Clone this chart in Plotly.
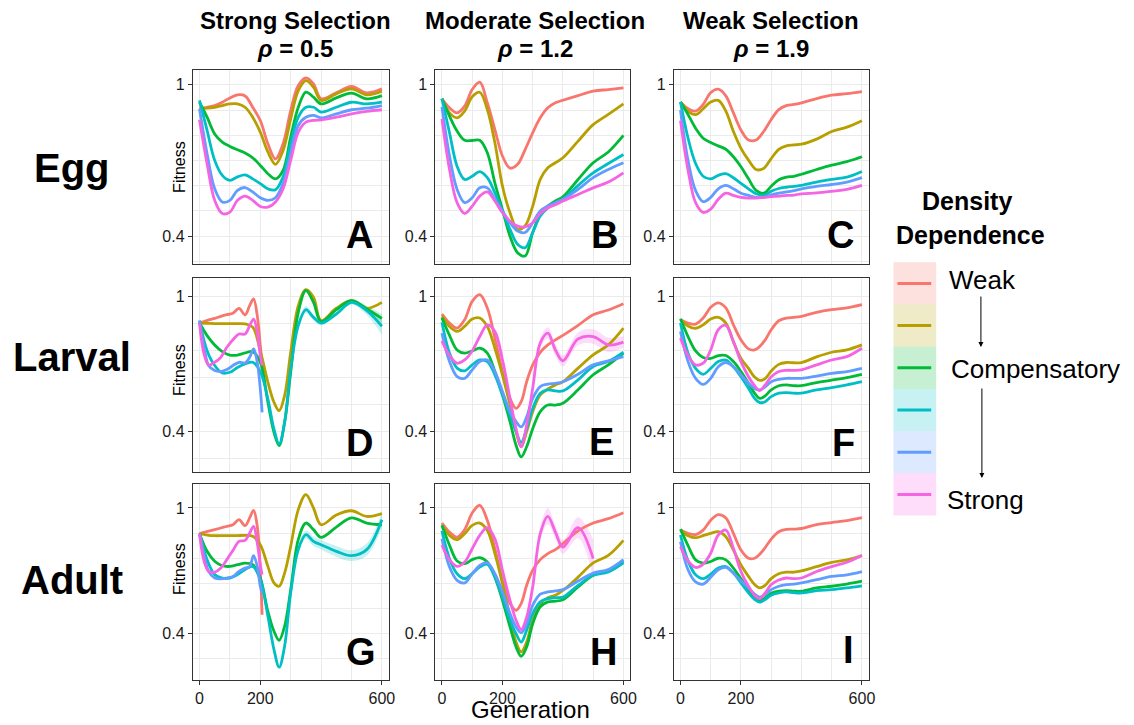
import plotly.graph_objects as go

W, H = 1134, 725
FONT = "Liberation Sans, Arial, Helvetica, sans-serif"

# Density-dependence levels, weakest (D1) to strongest (D6)
COLORS = ["#F8766D", "#B79F00", "#00BA38", "#00BFC4", "#619CFF", "#F564E3"]
RGB = [(248, 118, 109), (183, 159, 0), (0, 186, 56), (0, 191, 196), (97, 156, 255), (245, 100, 227)]

# Generation grids
GEN_EGG = [0, 25, 50, 75, 100, 125, 150, 175, 200, 225, 250, 275, 300, 325, 350, 375, 400, 450, 500, 550, 600]
GEN_LA = [0, 25, 50, 75, 100, 125, 150, 175, 200, 225, 245, 262, 280, 300, 325, 350, 375, 400, 450, 500, 550, 600]
GEN_EARLY = [0, 15, 30, 50, 70, 90, 110, 130, 150, 165, 178, 190, 200, 206]

# ---- Egg, strong selection (A)
A_D1 = [0.868, 0.873, 0.882, 0.900, 0.924, 0.941, 0.935, 0.873, 0.806, 0.700, 0.639, 0.700, 0.856, 0.996, 1.043, 1.006, 0.919, 0.953, 0.990, 0.953, 0.976]
A_D2 = [0.868, 0.868, 0.873, 0.882, 0.891, 0.891, 0.873, 0.822, 0.751, 0.666, 0.618, 0.672, 0.814, 0.966, 1.026, 0.986, 0.910, 0.947, 0.976, 0.941, 0.962]
A_D3 = [0.900, 0.822, 0.743, 0.707, 0.689, 0.675, 0.662, 0.643, 0.614, 0.584, 0.566, 0.596, 0.729, 0.873, 0.957, 0.928, 0.891, 0.924, 0.951, 0.919, 0.937]
A_D4 = [0.910, 0.759, 0.633, 0.578, 0.561, 0.573, 0.580, 0.566, 0.550, 0.533, 0.530, 0.573, 0.700, 0.822, 0.873, 0.873, 0.848, 0.873, 0.900, 0.891, 0.900]
A_D5 = [0.865, 0.659, 0.533, 0.492, 0.497, 0.528, 0.537, 0.523, 0.505, 0.497, 0.505, 0.550, 0.659, 0.782, 0.822, 0.831, 0.819, 0.839, 0.860, 0.868, 0.882]
A_D6 = [0.809, 0.620, 0.497, 0.459, 0.463, 0.497, 0.510, 0.497, 0.479, 0.477, 0.492, 0.533, 0.633, 0.751, 0.798, 0.806, 0.809, 0.822, 0.839, 0.852, 0.860]

# ---- Egg, moderate selection (B)
B_D1 = [0.919, 0.870, 0.844, 0.879, 0.972, 1.016, 0.897, 0.763, 0.650, 0.604, 0.618, 0.676, 0.748, 0.819, 0.870, 0.897, 0.911, 0.937, 0.962, 0.972, 0.982]
B_D2 = [0.919, 0.844, 0.819, 0.853, 0.930, 0.956, 0.861, 0.704, 0.542, 0.461, 0.417, 0.426, 0.480, 0.564, 0.605, 0.624, 0.643, 0.711, 0.786, 0.836, 0.891]
B_D3 = [0.919, 0.827, 0.756, 0.715, 0.714, 0.715, 0.663, 0.552, 0.470, 0.400, 0.362, 0.355, 0.409, 0.456, 0.480, 0.495, 0.508, 0.564, 0.624, 0.666, 0.736]
B_D4 = [0.919, 0.748, 0.611, 0.564, 0.575, 0.591, 0.570, 0.520, 0.466, 0.417, 0.381, 0.373, 0.409, 0.452, 0.475, 0.490, 0.500, 0.544, 0.587, 0.621, 0.656]
B_D5 = [0.875, 0.650, 0.531, 0.490, 0.505, 0.536, 0.536, 0.500, 0.466, 0.434, 0.413, 0.409, 0.434, 0.466, 0.480, 0.490, 0.500, 0.531, 0.570, 0.599, 0.624]
B_D6 = [0.814, 0.599, 0.490, 0.459, 0.480, 0.510, 0.523, 0.495, 0.461, 0.438, 0.425, 0.423, 0.434, 0.459, 0.475, 0.484, 0.495, 0.515, 0.536, 0.555, 0.587]

# ---- Egg, weak selection (C)
C_D1 = [0.901, 0.865, 0.853, 0.888, 0.954, 0.974, 0.935, 0.844, 0.761, 0.716, 0.716, 0.754, 0.811, 0.861, 0.882, 0.888, 0.897, 0.920, 0.939, 0.948, 0.960]
C_D2 = [0.901, 0.853, 0.835, 0.865, 0.901, 0.910, 0.853, 0.754, 0.681, 0.634, 0.599, 0.603, 0.640, 0.677, 0.691, 0.695, 0.698, 0.720, 0.754, 0.774, 0.805]
C_D3 = [0.901, 0.835, 0.769, 0.724, 0.705, 0.691, 0.677, 0.647, 0.609, 0.566, 0.528, 0.519, 0.541, 0.563, 0.572, 0.575, 0.582, 0.599, 0.615, 0.628, 0.647]
C_D4 = [0.901, 0.724, 0.621, 0.575, 0.566, 0.578, 0.584, 0.570, 0.551, 0.533, 0.517, 0.512, 0.525, 0.534, 0.538, 0.541, 0.544, 0.555, 0.564, 0.572, 0.592]
C_D5 = [0.858, 0.633, 0.527, 0.493, 0.506, 0.533, 0.544, 0.533, 0.519, 0.512, 0.506, 0.506, 0.514, 0.519, 0.523, 0.527, 0.533, 0.541, 0.547, 0.555, 0.570]
C_D6 = [0.805, 0.596, 0.490, 0.462, 0.471, 0.500, 0.519, 0.512, 0.506, 0.504, 0.504, 0.506, 0.508, 0.510, 0.512, 0.513, 0.517, 0.520, 0.525, 0.531, 0.544]

# ---- Larval, strong selection (D); D1, D5, D6 die out early (GEN_EARLY)
D_D1 = [0.834, 0.842, 0.852, 0.861, 0.873, 0.883, 0.891, 0.922, 0.881, 0.939, 0.982, 0.877, 0.716, 0.625]
D_D2 = [0.834, 0.833, 0.831, 0.831, 0.831, 0.831, 0.829, 0.811, 0.690, 0.558, 0.487, 0.460, 0.510, 0.684, 0.938, 1.046, 0.993, 0.848, 0.922, 0.971, 0.922, 0.960]
D_D3 = [0.834, 0.766, 0.719, 0.687, 0.671, 0.671, 0.681, 0.687, 0.639, 0.487, 0.397, 0.363, 0.425, 0.597, 0.897, 1.039, 0.960, 0.842, 0.913, 0.971, 0.918, 0.861]
D_D4 = [0.848, 0.691, 0.625, 0.594, 0.597, 0.617, 0.632, 0.639, 0.600, 0.498, 0.406, 0.367, 0.425, 0.610, 0.820, 0.913, 0.867, 0.834, 0.887, 0.960, 0.907, 0.816]
D_D5 = [0.848, 0.708, 0.625, 0.604, 0.600, 0.608, 0.625, 0.639, 0.636, 0.661, 0.700, 0.639, 0.533, 0.455]
D_D6 = [0.834, 0.676, 0.627, 0.639, 0.661, 0.708, 0.745, 0.774, 0.774, 0.819, 0.857, 0.783, 0.669, 0.625]

# ---- Larval, moderate selection (E)
E_D1 = [0.887, 0.834, 0.806, 0.853, 0.966, 1.011, 0.924, 0.753, 0.600, 0.500, 0.467, 0.489, 0.560, 0.628, 0.684, 0.719, 0.744, 0.767, 0.821, 0.883, 0.911, 0.951]
E_D2 = [0.873, 0.815, 0.788, 0.815, 0.857, 0.863, 0.815, 0.703, 0.587, 0.478, 0.399, 0.360, 0.399, 0.457, 0.512, 0.533, 0.548, 0.560, 0.614, 0.672, 0.719, 0.806]
E_D3 = [0.863, 0.767, 0.695, 0.680, 0.690, 0.703, 0.680, 0.600, 0.512, 0.427, 0.364, 0.336, 0.360, 0.407, 0.457, 0.478, 0.478, 0.484, 0.530, 0.587, 0.628, 0.680]
E_D4 = [0.839, 0.680, 0.614, 0.603, 0.628, 0.649, 0.642, 0.587, 0.512, 0.446, 0.399, 0.371, 0.407, 0.467, 0.518, 0.530, 0.526, 0.526, 0.567, 0.621, 0.642, 0.684]
E_D5 = [0.779, 0.642, 0.580, 0.573, 0.607, 0.642, 0.649, 0.600, 0.524, 0.457, 0.427, 0.412, 0.441, 0.500, 0.542, 0.551, 0.554, 0.560, 0.589, 0.628, 0.645, 0.664]
E_D6 = [0.739, 0.669, 0.635, 0.649, 0.690, 0.761, 0.824, 0.788, 0.650, 0.500, 0.407, 0.360, 0.417, 0.536, 0.728, 0.779, 0.695, 0.645, 0.749, 0.761, 0.719, 0.733]

# ---- Larval, weak selection (F)
F_D1 = [0.853, 0.834, 0.828, 0.863, 0.928, 0.956, 0.924, 0.824, 0.744, 0.700, 0.695, 0.711, 0.744, 0.797, 0.847, 0.863, 0.867, 0.873, 0.897, 0.913, 0.924, 0.945]
F_D2 = [0.853, 0.818, 0.805, 0.824, 0.857, 0.867, 0.834, 0.735, 0.656, 0.613, 0.578, 0.565, 0.572, 0.602, 0.630, 0.638, 0.637, 0.638, 0.663, 0.684, 0.695, 0.719]
F_D3 = [0.859, 0.761, 0.690, 0.660, 0.656, 0.669, 0.669, 0.642, 0.600, 0.554, 0.518, 0.500, 0.509, 0.530, 0.545, 0.548, 0.545, 0.545, 0.557, 0.566, 0.576, 0.589]
F_D4 = [0.834, 0.680, 0.613, 0.589, 0.613, 0.642, 0.649, 0.620, 0.579, 0.535, 0.500, 0.486, 0.489, 0.506, 0.518, 0.520, 0.518, 0.518, 0.530, 0.538, 0.548, 0.560]
F_D5 = [0.788, 0.642, 0.573, 0.550, 0.573, 0.620, 0.638, 0.620, 0.587, 0.554, 0.535, 0.530, 0.541, 0.560, 0.569, 0.573, 0.573, 0.573, 0.582, 0.593, 0.600, 0.613]
F_D6 = [0.753, 0.669, 0.628, 0.635, 0.695, 0.797, 0.821, 0.735, 0.642, 0.579, 0.545, 0.527, 0.548, 0.579, 0.600, 0.605, 0.605, 0.607, 0.628, 0.649, 0.664, 0.703]

# ---- Adult, strong selection (G); D1, D5, D6 die out early (GEN_EARLY)
G_D1 = [0.829, 0.837, 0.844, 0.854, 0.864, 0.875, 0.885, 0.918, 0.879, 0.930, 0.983, 0.875, 0.638, 0.459]
G_D2 = [0.829, 0.821, 0.817, 0.817, 0.817, 0.817, 0.819, 0.813, 0.765, 0.653, 0.579, 0.565, 0.622, 0.756, 0.988, 1.102, 1.000, 0.885, 0.950, 0.980, 0.940, 0.960]
G_D3 = [0.829, 0.729, 0.678, 0.656, 0.653, 0.661, 0.669, 0.661, 0.600, 0.470, 0.407, 0.381, 0.422, 0.551, 0.794, 0.896, 0.854, 0.807, 0.870, 0.930, 0.896, 0.885]
G_D4 = [0.829, 0.686, 0.615, 0.600, 0.600, 0.615, 0.638, 0.653, 0.593, 0.454, 0.356, 0.313, 0.365, 0.538, 0.738, 0.823, 0.784, 0.765, 0.729, 0.706, 0.738, 0.918]
G_D5 = [0.829, 0.711, 0.630, 0.600, 0.596, 0.600, 0.607, 0.630, 0.645, 0.653, 0.706, 0.653, 0.565, 0.538]
G_D6 = [0.829, 0.678, 0.630, 0.626, 0.645, 0.686, 0.734, 0.784, 0.790, 0.833, 0.875, 0.774, 0.661, 0.615]

# ---- Adult, moderate selection (H); D6 stops at generation 500
H_D1 = [0.896, 0.839, 0.809, 0.854, 0.964, 1.020, 0.914, 0.743, 0.590, 0.498, 0.474, 0.498, 0.569, 0.635, 0.686, 0.717, 0.738, 0.771, 0.846, 0.896, 0.925, 0.966]
H_D2 = [0.881, 0.819, 0.794, 0.829, 0.881, 0.896, 0.849, 0.717, 0.576, 0.451, 0.376, 0.350, 0.376, 0.441, 0.498, 0.520, 0.529, 0.548, 0.604, 0.670, 0.708, 0.790]
H_D3 = [0.881, 0.762, 0.679, 0.666, 0.686, 0.696, 0.674, 0.604, 0.510, 0.420, 0.363, 0.339, 0.363, 0.430, 0.486, 0.504, 0.507, 0.512, 0.562, 0.612, 0.635, 0.679]
H_D4 = [0.846, 0.691, 0.619, 0.597, 0.619, 0.650, 0.663, 0.604, 0.522, 0.441, 0.400, 0.376, 0.410, 0.463, 0.504, 0.516, 0.520, 0.522, 0.569, 0.612, 0.627, 0.670]
H_D5 = [0.799, 0.650, 0.590, 0.579, 0.619, 0.658, 0.670, 0.619, 0.542, 0.463, 0.420, 0.402, 0.430, 0.491, 0.533, 0.542, 0.546, 0.551, 0.587, 0.622, 0.638, 0.686]
H_D6 = [0.762, 0.686, 0.653, 0.674, 0.743, 0.819, 0.866, 0.799, 0.635, 0.510, 0.441, 0.412, 0.451, 0.562, 0.829, 0.941, 0.839, 0.752, 0.866, 0.691, None, None]

# ---- Adult, weak selection (I)
I_D1 = [0.851, 0.831, 0.824, 0.851, 0.915, 0.953, 0.930, 0.831, 0.736, 0.693, 0.693, 0.714, 0.749, 0.797, 0.841, 0.855, 0.857, 0.861, 0.886, 0.899, 0.912, 0.932]
I_D2 = [0.851, 0.817, 0.805, 0.817, 0.831, 0.841, 0.811, 0.736, 0.660, 0.607, 0.572, 0.558, 0.569, 0.597, 0.619, 0.626, 0.626, 0.632, 0.652, 0.673, 0.685, 0.707]
I_D3 = [0.857, 0.760, 0.685, 0.669, 0.677, 0.693, 0.685, 0.645, 0.597, 0.551, 0.522, 0.509, 0.519, 0.537, 0.545, 0.547, 0.545, 0.545, 0.558, 0.565, 0.574, 0.586]
I_D4 = [0.821, 0.680, 0.614, 0.597, 0.617, 0.645, 0.652, 0.622, 0.579, 0.538, 0.513, 0.503, 0.513, 0.529, 0.538, 0.542, 0.539, 0.538, 0.547, 0.551, 0.558, 0.567]
I_D5 = [0.782, 0.637, 0.583, 0.574, 0.603, 0.637, 0.648, 0.622, 0.588, 0.558, 0.534, 0.522, 0.532, 0.551, 0.565, 0.572, 0.574, 0.579, 0.593, 0.607, 0.614, 0.629]
I_D6 = [0.754, 0.680, 0.648, 0.664, 0.719, 0.821, 0.851, 0.745, 0.629, 0.565, 0.529, 0.516, 0.538, 0.572, 0.591, 0.600, 0.597, 0.600, 0.629, 0.652, 0.673, 0.707]

# Confidence-band half widths (relative), on the GEN_LA grid
D_D3_BAND = [0.005] * 18 + [0.010, 0.010, 0.020, 0.030]
D_D4_BAND = [0.005] * 15 + [0.025, 0.020, 0.015, 0.010, 0.015, 0.030, 0.060]
E_D6_BAND = [0.005] * 13 + [0.020, 0.035, 0.040, 0.040, 0.040, 0.045, 0.050, 0.050, 0.040]
G_D4_BAND = [0.005] * 14 + [0.020, 0.030, 0.035, 0.035, 0.040, 0.040, 0.045, 0.060]
H_D6_BAND = [0.005] * 13 + [0.030, 0.050, 0.060, 0.050, 0.050, 0.080, 0.150, None, None]

ROW_LABELS = ["Egg", "Larval", "Adult"]
COL_TITLES = ["Strong Selection", "Moderate Selection", "Weak Selection"]
RHO = ["0.5", "1.2", "1.9"]
PANEL_LETTERS = ["A", "B", "C", "D", "E", "F", "G", "H", "I"]
LEGEND_LABELS = ["Weak", "", "Compensatory", "", "", "Strong"]

PANELS = [
    [(GEN_EGG, A_D1), (GEN_EGG, A_D2), (GEN_EGG, A_D3), (GEN_EGG, A_D4), (GEN_EGG, A_D5), (GEN_EGG, A_D6)],
    [(GEN_EGG, B_D1), (GEN_EGG, B_D2), (GEN_EGG, B_D3), (GEN_EGG, B_D4), (GEN_EGG, B_D5), (GEN_EGG, B_D6)],
    [(GEN_EGG, C_D1), (GEN_EGG, C_D2), (GEN_EGG, C_D3), (GEN_EGG, C_D4), (GEN_EGG, C_D5), (GEN_EGG, C_D6)],
    [(GEN_EARLY, D_D1), (GEN_LA, D_D2), (GEN_LA, D_D3), (GEN_LA, D_D4), (GEN_EARLY, D_D5), (GEN_EARLY, D_D6)],
    [(GEN_LA, E_D1), (GEN_LA, E_D2), (GEN_LA, E_D3), (GEN_LA, E_D4), (GEN_LA, E_D5), (GEN_LA, E_D6)],
    [(GEN_LA, F_D1), (GEN_LA, F_D2), (GEN_LA, F_D3), (GEN_LA, F_D4), (GEN_LA, F_D5), (GEN_LA, F_D6)],
    [(GEN_EARLY, G_D1), (GEN_LA, G_D2), (GEN_LA, G_D3), (GEN_LA, G_D4), (GEN_EARLY, G_D5), (GEN_EARLY, G_D6)],
    [(GEN_LA, H_D1), (GEN_LA, H_D2), (GEN_LA, H_D3), (GEN_LA, H_D4), (GEN_LA, H_D5), (GEN_LA, H_D6)],
    [(GEN_LA, I_D1), (GEN_LA, I_D2), (GEN_LA, I_D3), (GEN_LA, I_D4), (GEN_LA, I_D5), (GEN_LA, I_D6)],
]
BANDS = [(3, 2, D_D3_BAND), (3, 3, D_D4_BAND), (4, 5, E_D6_BAND), (6, 3, G_D4_BAND), (7, 5, H_D6_BAND)]

# ---- geometry (pixels)
COL_X = [(194, 391), (438, 634), (678, 874)]
ROW_Y = [(70, 264), (278, 472), (484, 680)]
ROW_LOG_RANGE = [(-0.471, 0.039), (-0.518, 0.054), (-0.545, 0.076)]
ROW_GRID_DIV = [6, 5, 5]
LETTER_POS = [(362, 235), (608, 235), (846, 235), (362, 443), (605, 442), (849, 443), (363, 652), (607, 652), (854, 650)]


def fx(p):
    return p / W


def fy(p):
    return 1 - p / H


def axis_names(i):
    return ("x", "y") if i == 0 else (f"x{i + 1}", f"y{i + 1}")


def rgba(rgb, a):
    return f"rgba({rgb[0]},{rgb[1]},{rgb[2]},{a})"


fig = go.Figure()

# confidence ribbons
for p, s, band in BANDS:
    xa, ya = axis_names(p)
    gens, vals = PANELS[p][s]
    lo = [None if v is None or b is None else v / (1 + b) for v, b in zip(vals, band)]
    hi = [None if v is None or b is None else v * (1 + b) for v, b in zip(vals, band)]
    fig.add_trace(go.Scatter(x=gens, y=lo, mode="lines", line=dict(width=0, shape="spline"),
                             xaxis=xa, yaxis=ya, hoverinfo="skip", showlegend=False))
    fig.add_trace(go.Scatter(x=gens, y=hi, mode="lines", line=dict(width=0, shape="spline"),
                             fill="tonexty", fillcolor=rgba(RGB[s], 0.22),
                             xaxis=xa, yaxis=ya, hoverinfo="skip", showlegend=False))

# fitness trajectories
for p, series in enumerate(PANELS):
    xa, ya = axis_names(p)
    for s, (gens, vals) in enumerate(series):
        fig.add_trace(go.Scatter(x=gens, y=vals, mode="lines",
                                 line=dict(color=COLORS[s], width=2.8, shape="spline", smoothing=1),
                                 connectgaps=False, xaxis=xa, yaxis=ya, showlegend=False))

layout = dict(width=W, height=H, margin=dict(l=0, r=0, t=0, b=0),
              paper_bgcolor="white", plot_bgcolor="white", showlegend=False,
              font=dict(family=FONT, color="#1a1a1a"))

for i in range(9):
    r, c = divmod(i, 3)
    x0, x1 = COL_X[c]
    y0, y1 = ROW_Y[r]
    key_x = "xaxis" if i == 0 else f"xaxis{i + 1}"
    key_y = "yaxis" if i == 0 else f"yaxis{i + 1}"
    xa, ya = axis_names(i)
    bottom = r == 2
    layout[key_x] = dict(
        domain=[fx(x0), fx(x1)], range=[-22, 622], anchor=ya,
        tickvals=[0, 200, 600], ticktext=["0", "200", "600"],
        showticklabels=bottom, ticks="outside" if bottom else "", ticklen=4,
        tickcolor="#333333", tickfont=dict(size=16, color="#1a1a1a"),
        showgrid=True, gridcolor="#EBEBEB", gridwidth=1,
        minor=dict(tickvals=[100, 300, 400, 500], showgrid=True, gridcolor="#EBEBEB", gridwidth=1, ticks=""),
        showline=True, mirror=True, linecolor="#333333", linewidth=1, zeroline=False,
    )
    lo, hi = ROW_LOG_RANGE[r]
    n = ROW_GRID_DIV[r]
    step = 0.39794 / n
    minor_vals = [10 ** (-k * step) for k in range(1, 12) if k != n and -k * step > lo]
    layout[key_y] = dict(
        domain=[fy(y1), fy(y0)], type="log", range=[lo, hi], anchor=xa,
        tickvals=[0.4, 1], ticktext=["0.4", "1"], ticks="outside", ticklen=4,
        tickcolor="#333333", tickfont=dict(size=16, color="#1a1a1a"),
        showgrid=True, gridcolor="#EBEBEB", gridwidth=1,
        minor=dict(tickvals=minor_vals, showgrid=True, gridcolor="#EBEBEB", gridwidth=1, ticks=""),
        showline=True, mirror=True, linecolor="#333333", linewidth=1, zeroline=False,
    )

ann = []


def text(x, y, s, size, bold=False, angle=0, xanchor="center", yanchor="middle"):
    ann.append(dict(x=fx(x), y=fy(y), xref="paper", yref="paper", text=f"<b>{s}</b>" if bold else s,
                    showarrow=False, font=dict(size=size, color="black", family=FONT),
                    xanchor=xanchor, yanchor=yanchor, textangle=angle))


# column headers
for c, (title, rho) in enumerate(zip(COL_TITLES, RHO)):
    cx = [297, 538, 776][c]
    text(cx, 20, title, 24, bold=True)
    text(cx, 48, f"<i>ρ</i> = {rho}", 24, bold=True)

# row labels and y-axis titles
for r, lab in enumerate(ROW_LABELS):
    text(72, [168, 357, 580][r], lab, 40, bold=True)
    text(180, [167, 370, 569][r], "Fitness", 16, angle=-90)

# panel letters
for letter, (lx, ly) in zip(PANEL_LETTERS, LETTER_POS):
    text(lx, ly, letter, 38, bold=True)

text(534, 725, "Generation", 24, yanchor="bottom")

# legend
text(973, 201, "Density", 25, bold=True)
text(977, 235, "Dependence", 25, bold=True)
shapes = []
KEY_TOP, KEY_H = 262.3, 42.2
for j, lab in enumerate(LEGEND_LABELS):
    t = KEY_TOP + j * KEY_H
    shapes.append(dict(type="rect", xref="paper", yref="paper", x0=fx(899), x1=fx(942),
                       y0=fy(t + KEY_H), y1=fy(t), fillcolor=rgba(RGB[j], 0.22), line=dict(width=0), layer="below"))
    shapes.append(dict(type="line", xref="paper", yref="paper", x0=fx(903), x1=fx(937),
                       y0=fy(t + KEY_H / 2), y1=fy(t + KEY_H / 2), line=dict(color=COLORS[j], width=3)))
text(953, 280, "Weak", 26, xanchor="left")
text(955, 369, "Compensatory", 26, xanchor="left")
text(951, 500, "Strong", 26, xanchor="left")
for hx, hy, tail in [(987, 347, -52), (988, 478, -91)]:
    ann.append(dict(x=fx(hx), y=fy(hy), xref="paper", yref="paper", text="", showarrow=True,
                    ax=0, ay=tail, arrowhead=2, arrowsize=1, arrowwidth=1, arrowcolor="black"))

layout["annotations"] = ann
layout["shapes"] = shapes
fig.update_layout(**layout)
fig.write_html("out.html")
